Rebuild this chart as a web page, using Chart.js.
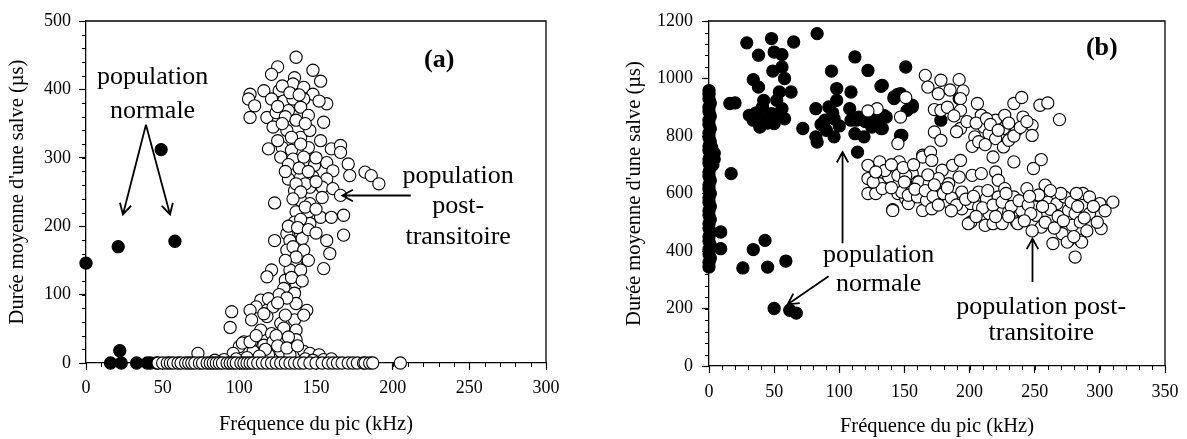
<!DOCTYPE html>
<html>
<head>
<meta charset="utf-8">
<script src="https://cdn.jsdelivr.net/npm/chart.js@4.4.1/dist/chart.umd.min.js"></script>
<style>
  html, body { margin: 0; padding: 0; background: #fff; }
  body { width: 1187px; height: 439px; position: relative; overflow: hidden; }
  #wrapA { position: absolute; left: 0; top: 0; }
  #wrapB { position: absolute; left: 600px; top: 0; }
</style>
</head>
<body>
<div id="wrapA"><canvas id="chartA" width="580" height="439"></canvas></div>
<div id="wrapB"><canvas id="chartB" width="587" height="439"></canvas></div>
<script>
// ---- données (a) : [fréquence kHz, durée µs] ----
const openA = [
  [137,447],[125,433],[148,428],[121,422],[136,417],[153,412],[107,393],[106,386],[116,398],[126,398],
  [135,408],[142,403],[148,393],[157,379],[152,383],[110,376],[107,359],[121,386],[129,383],[135,386],
  [142,386],[118,359],[124,366],[132,369],[140,374],[145,362],[155,352],[122,345],[131,340],[140,330],
  [146,340],[153,325],[119,313],[128,315],[134,311],[145,315],[127,301],[135,298],[142,301],[149,289],
  [160,313],[166,318],[166,308],[171,291],[157,293],[161,281],[172,274],[182,279],[186,274],[191,262],
  [132,269],[140,272],[148,272],[157,269],[136,252],[146,257],[154,257],[161,255],[166,245],[123,234],
  [140,238],[146,233],[154,242],[168,216],[137,221],[145,221],[153,213],[160,213],[136,206],[146,204],
  [131,189],[123,179],[140,189],[133,179],[141,182],[157,179],[168,187],[159,160],[131,165],[155,138],
  [137,143],[133,136],[140,136],[121,136],[118,126],[130,121],[137,116],[129,109],[136,102],[114,92],
  [119,94],[111,82],[122,82],[137,87],[144,77],[95,75],[107,77],[108,63],[118,68],[127,58],
  [136,63],[142,70],[94,52],[114,48],[121,43],[129,51],[137,48],[103,31],[108,31],[116,26],
  [122,31],[137,34],[100,24],[96,14],[109,17],[119,12],[127,17],[133,12],[142,17],[146,14],
  [152,12],[73,14],[102,29],[107,31],
  [128,405],[133,395],[139,392],[125,375],[130,360],[137,355],[143,350],[128,350],[134,330],[140,320],
  [125,325],[132,290],[139,285],[145,280],[130,280],[150,300],[143,262],[137,262],[150,265],[140,250],
  [135,240],[143,228],[150,225],[140,210],[132,200],[138,198],[145,195],[150,190],[135,170],[142,165],
  [137,155],[145,150],[130,150],[134,125],[141,120],[126,100],[131,95],[125,88],[116,72],[130,70],
  [124,40],[132,38],[111,40],[117,20],[125,25],[131,22],[138,25],[113,10],[105,8],[98,6],
  [90,5],[84,4],[143,6],[148,4],[155,5],[160,6],
  [47,0],[50,0],[53,0],[55,0],[57,0],[60,0],[62,0],[65,0],[67,0],[69,0],
  [71,0],[74,0],[76,0],[79,0],[81,0],[83,0],[85,0],[87,0],[89,0],[92,0],
  [94,0],[96,0],[98,0],[101,0],[103,0],[105,0],[107,0],[109,0],[112,0],[115,0],
  [118,0],[121,0],[124,0],[127,0],[130,0],[133,0],[136,0],[139,0],[142,0],[146,0],
  [150,0],[154,0],[158,0],[161,0],[164,0],[167,0],[171,0],[174,0],[177,0],[181,0],
  [182,0],[185,0],[187,0],[205,0]
];
const filledA = [
  [0,146],[21,170],[58,178],[49,312],[22,18],[16,0],[23,0],[33,0],[40,0],[42,0],[46,0]
];
const xTicksA = [0, 50, 100, 150, 200, 250, 300];
const yTicksA = [0, 100, 200, 300, 400, 500];

// ---- données (b) ----
const filledB = [
  [0,344],[0,360],[1,375],[0,390],[0,405],[1,420],[0,435],[0,450],[1,465],[0,480],
  [0,495],[1,510],[0,525],[0,540],[1,555],[0,570],[0,585],[1,600],[0,615],[0,630],
  [1,645],[0,660],[0,675],[1,690],[0,705],[0,720],[1,735],[0,750],[0,765],[1,780],
  [0,795],[0,810],[1,825],[0,840],[0,855],[1,870],[0,885],[0,900],[1,915],[0,930],
  [0,945],[0,958],[4,740],[4,720],[3,700],[2,760],
  [29,1124],[48,1139],[65,1127],[83,1156],[38,1081],[50,1092],[56,1083],[56,1040],[49,1026],[34,996],
  [58,1000],[38,970],[54,953],[63,953],[42,924],[52,924],[16,913],[20,915],[31,872],[38,860],
  [48,878],[56,895],[58,860],[39,831],[50,843],[34,855],[44,860],[72,826],[82,895],[94,1026],
  [98,965],[92,901],[98,924],[89,855],[96,860],[82,797],[83,779],[96,797],[109,953],[112,1075],
  [122,1028],[132,973],[108,895],[115,866],[109,855],[112,808],[119,797],[113,855],[125,831],[132,826],
  [127,866],[114,744],[142,930],[151,1040],[156,901],[152,889],[147,802],[145,945],[136,866],[17,669],
  [9,466],[9,408],[26,341],[34,405],[43,437],[45,344],[59,365],[50,200],[62,194],[67,184],
  [133,976],[142,936],[147,947],[156,907],[134,872],[178,855],[133,826],[148,802],[192,930],
  [86,840],[90,820],[100,835],[95,880],[45,845],[53,870],[36,880],[41,900],[120,850],[128,845]
];
const openB = [
  [166,1011],[151,934],[129,895],[122,887],[147,866],[145,774],[178,994],[192,996],[195,957],[176,947],
  [173,892],[178,889],[193,930],[193,889],[193,826],[173,814],[178,785],[206,913],[209,872],[204,797],
  [202,764],[211,831],[215,808],[220,855],[220,791],[218,727],[227,872],[226,826],[226,762],[230,785],
  [234,913],[240,934],[236,820],[241,866],[248,837],[248,802],[254,907],[260,915],[269,857],[234,710],
  [249,687],[255,718],
  [183,900],[188,870],[198,850],[205,845],[213,860],[216,840],[222,820],[230,845],[234,800],[239,830],
  [244,850],[207,780],[212,770],[185,960],[168,970],[190,815],
  [122,698],[131,710],[146,710],[164,733],[122,652],[131,634],[138,657],[145,663],[156,669],[160,640],
  [122,600],[128,600],[133,617],[145,600],[151,582],[159,594],[141,544],[153,565],[164,541],[164,727],
  [170,744],[171,715],[179,681],[187,698],[193,715],[151,663],[161,640],[169,634],[176,652],[184,634],
  [192,657],[202,663],[209,669],[220,675],[222,646],[148,605],[153,594],[160,588],[167,576],[171,547],
  [176,605],[184,570],[194,605],[194,547],[201,565],[207,605],[207,553],[213,582],[215,530],[201,501],
  [212,489],[218,495],[225,495],[222,588],[227,617],[234,588],[230,536],[236,501],[240,541],[244,617],
  [250,553],[258,629],[260,570],[255,483],[251,524],[264,426],[267,565],[273,588],[276,541],[281,530],
  [279,489],[276,437],[285,437],[281,379],[287,600],[292,588],[300,565],[310,570],[292,530],[301,478],
  [271,460],[285,501],[275,431],[286,431],[237,495],[199,495],[141,541],
  [126,640],[135,680],[140,620],[150,640],[158,615],[166,610],[172,590],[180,600],[186,585],[190,560],
  [197,580],[203,590],[210,550],[218,560],[225,570],[232,555],[238,575],[245,560],[247,530],[253,595],
  [262,545],[268,520],[270,600],[278,570],[283,555],[288,515],[295,555],[242,505],[258,500],[265,480],
  [248,470],[230,520],[220,520],[205,520],[186,540],[176,560],[246,590],[262,610],[282,600],[290,470],
  [280,450],[272,505],[298,500],[304,540],[256,555],[228,600],[214,610],[183,620],[168,665],[173,630],
  [149,690],[140,700],[157,700],[128,675]
];
const xTicksB = [0, 50, 100, 150, 200, 250, 300, 350];
const yTicksB = [0, 200, 400, 600, 800, 1000, 1200];

const SERIF = "'Times New Roman', 'Liberation Serif', serif";

function arrow(ctx, x1, y1, x2, y2) {
  const ang = Math.atan2(y2 - y1, x2 - x1);
  const h = 12, spread = 0.5;
  ctx.beginPath();
  ctx.moveTo(x1, y1);
  ctx.lineTo(x2, y2);
  ctx.moveTo(x2 - h * Math.cos(ang - spread), y2 - h * Math.sin(ang - spread));
  ctx.lineTo(x2, y2);
  ctx.lineTo(x2 - h * Math.cos(ang + spread), y2 - h * Math.sin(ang + spread));
  ctx.stroke();
}

// cadre, petites graduations et annotations
const decorPlugin = {
  id: 'decor',
  beforeDatasetsDraw(chart, args, opts) {
    const { ctx, chartArea: a, scales: { x, y } } = chart;
    ctx.save();
    ctx.strokeStyle = '#000';
    ctx.lineWidth = 1.3;
    ctx.beginPath();
    ctx.moveTo(a.left, a.top);
    ctx.lineTo(a.right, a.top);
    ctx.lineTo(a.right, a.bottom);
    ctx.stroke();
    ctx.lineWidth = 1;
    ctx.beginPath();
    for (let v = x.min; v <= x.max; v += opts.minorX) {
      const px = Math.round(x.getPixelForValue(v)) + 0.5;
      ctx.moveTo(px, a.bottom);
      ctx.lineTo(px, a.bottom + 4);
    }
    for (let v = y.min; v <= y.max; v += opts.minorY) {
      const py = Math.round(y.getPixelForValue(v)) + 0.5;
      ctx.moveTo(a.left, py);
      ctx.lineTo(a.left - 4, py);
    }
    ctx.stroke();
    ctx.restore();
  },
  afterDatasetsDraw(chart, args, opts) {
    const { ctx, scales: { x, y } } = chart;
    ctx.save();
    ctx.fillStyle = '#000';
    ctx.strokeStyle = '#000';
    ctx.lineWidth = 1.8;
    ctx.textAlign = 'center';
    ctx.textBaseline = 'alphabetic';
    opts.texts.forEach(t => {
      ctx.font = (t.bold ? 'bold ' : '') + '26px ' + SERIF;
      ctx.fillText(t.t, x.getPixelForValue(t.x), y.getPixelForValue(t.y));
    });
    opts.arrows.forEach(r => {
      arrow(ctx, x.getPixelForValue(r[0]), y.getPixelForValue(r[1]),
                 x.getPixelForValue(r[2]), y.getPixelForValue(r[3]));
    });
    ctx.restore();
  }
};

function makeChart(id, cfg) {
  const tickFont = { family: SERIF, size: 18 };
  const titleFont = { family: SERIF, size: 20.5 };
  const grid = { display: true, drawOnChartArea: false, drawTicks: true, tickLength: 7, tickColor: '#000', tickWidth: 1.2 };
  const border = { display: true, color: '#000', width: 1.3 };
  const plain = v => String(v);
  return new Chart(document.getElementById(id), {
    type: 'scatter',
    data: {
      datasets: [
        { data: cfg.open.map(p => ({ x: p[0], y: p[1] })), pointRadius: 6.1, backgroundColor: '#fff',
          borderColor: '#000', borderWidth: 1.1, clip: false },
        { data: cfg.filled.map(p => ({ x: p[0], y: p[1] })), pointRadius: 6.1, backgroundColor: '#000',
          borderColor: '#000', borderWidth: 1.1, clip: false }
      ]
    },
    options: {
      responsive: false,
      animation: false,
      devicePixelRatio: 1,
      layout: { padding: cfg.padding },
      plugins: {
        legend: { display: false },
        tooltip: { enabled: false },
        decor: cfg.decor
      },
      scales: {
        x: {
          type: 'linear', min: cfg.xTicks[0], max: cfg.xTicks[cfg.xTicks.length - 1],
          afterBuildTicks: s => { s.ticks = cfg.xTicks.map(v => ({ value: v })); },
          afterFit: s => { s.height = cfg.xHeight; },
          ticks: { font: tickFont, color: '#000', padding: cfg.xPad, maxRotation: 0, callback: plain },
          grid, border,
          title: { display: true, text: 'Fréquence du pic (kHz)', font: titleFont, color: '#000',
                   padding: { top: 0, bottom: cfg.xTitlePad } }
        },
        y: {
          type: 'linear', min: cfg.yTicks[0], max: cfg.yTicks[cfg.yTicks.length - 1],
          afterBuildTicks: s => { s.ticks = cfg.yTicks.map(v => ({ value: v })); },
          afterFit: s => { s.width = cfg.yWidth; },
          ticks: { font: tickFont, color: '#000', padding: cfg.yPad, callback: plain },
          grid, border,
          title: { display: true, text: "Durée moyenne d'une salve (µs)", font: titleFont, color: '#000',
                   padding: { top: cfg.yTitlePad, bottom: 0 } }
        }
      }
    },
    plugins: [decorPlugin]
  });
}

makeChart('chartA', {
  open: openA, filled: filledA, xTicks: xTicksA, yTicks: yTicksA,
  padding: { top: 21, right: 34, left: 0, bottom: 0 },
  xHeight: 76, yWidth: 86, xPad: 7, yPad: 8, xTitlePad: 1.9, yTitlePad: 5.1,
  decor: {
    minorX: 10, minorY: 20,
    texts: [
      { t: 'population', x: 43.4, y: 408 },
      { t: 'normale', x: 43.4, y: 358.6 },
      { t: '(a)', x: 230.3, y: 433, bold: true },
      { t: 'population', x: 242.7, y: 263.8 },
      { t: 'post-', x: 242.7, y: 218.7 },
      { t: 'transitoire', x: 242.7, y: 174.2 }
    ],
    arrows: [[39.1, 348.4, 24.1, 217.2], [39.1, 348.4, 54.8, 217.2], [211.8, 244.9, 167.2, 244.9]]
  }
});

makeChart('chartB', {
  open: openB, filled: filledB, xTicks: xTicksB, yTicks: yTicksB,
  padding: { top: 21, right: 19, left: 0, bottom: 0 },
  xHeight: 73, yWidth: 109, xPad: 8.5, yPad: 9, xTitlePad: 0.3, yTitlePad: 22.5,
  decor: {
    minorX: 10, minorY: 40,
    texts: [
      { t: 'population', x: 130.2, y: 360.7 },
      { t: 'normale', x: 130.2, y: 261.6 },
      { t: '(b)', x: 301.5, y: 1082.8, bold: true },
      { t: 'population post-', x: 255, y: 182.3 },
      { t: 'transitoire', x: 255, y: 89.4 }
    ],
    arrows: [[102.5, 426.8, 102.5, 744.3], [91.8, 312, 60.5, 214.6], [248.3, 292.2, 248.3, 443.1]]
  }
});
</script>
</body>
</html>
